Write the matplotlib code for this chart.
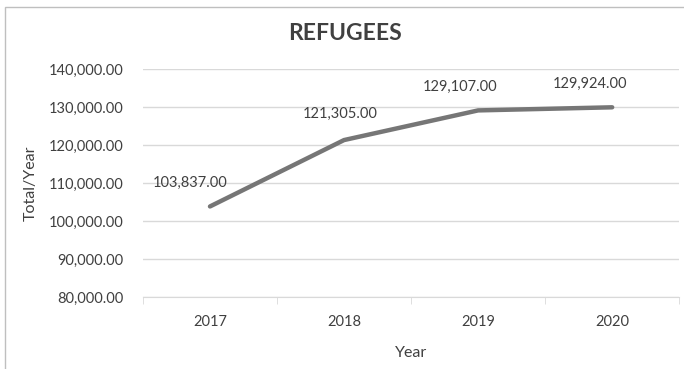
import matplotlib.pyplot as plt
from matplotlib.patches import Rectangle
from matplotlib.ticker import FuncFormatter

years = ["2017", "2018", "2019", "2020"]
refugees = [103837.00, 121305.00, 129107.00, 129924.00]
y_ticks = [80000, 90000, 100000, 110000, 120000, 130000, 140000]

plt.rcParams["font.family"] = ["Lato", "DejaVu Sans"]
text_color = "#404040"

fig = plt.figure(figsize=(6.84, 3.69), dpi=100)
ax = fig.add_axes([0.209, 0.195, 0.784, 0.618])

x = list(range(len(years)))
ax.plot(x, refugees, color="#767676", linewidth=3.2, solid_capstyle="round")

# data labels above each point
label_shift = [-14, -3, -13, -16]
label_rise = [12, 14, 12, 12]
for i, v in enumerate(refugees):
    ax.annotate(f"{v:,.2f}", (x[i], v), xytext=(label_shift[i], label_rise[i]),
                textcoords="offset points", ha="center", va="bottom",
                fontsize=10.5, color=text_color)

ax.set_xlim(-0.5, len(years) - 0.5)
ax.set_ylim(80000, 140000)
ax.set_yticks(y_ticks)
ax.yaxis.set_major_formatter(FuncFormatter(lambda v, p: f"{v:,.2f}"))
ax.set_xticks(x)
ax.set_xticklabels(years)
ax.set_xticks([i - 0.5 for i in range(len(years) + 1)], minor=True)

ax.grid(axis="y", color="#d9d9d9", linewidth=1)
ax.set_axisbelow(True)
for s in ["top", "right", "left"]:
    ax.spines[s].set_visible(False)
ax.spines["bottom"].set_color("#d9d9d9")
ax.tick_params(axis="y", length=0, labelsize=10.5, labelcolor=text_color, pad=14)
ax.tick_params(axis="x", which="major", length=0, labelsize=10.5, labelcolor=text_color, pad=13)
ax.tick_params(axis="x", which="minor", length=5, color="#d9d9d9")

ax.set_xlabel("Year", fontsize=11.5, color=text_color, labelpad=12)
ax.set_ylabel("Total/Year", fontsize=11.5, color=text_color)
ax.yaxis.set_label_coords(-0.197, 0.5)
fig.text(0.505, 0.91, "REFUGEES", ha="center", va="center", fontsize=16.5,
         fontweight="bold", color=text_color)

# chart border (right/bottom edges fall outside the image)
fig.patches.append(Rectangle((5 / 684, -0.1), 1.2, 1.1 - 7 / 369, transform=fig.transFigure,
                             fill=False, edgecolor="#bfbfbf", linewidth=1))

plt.savefig("out.png", dpi=100)
